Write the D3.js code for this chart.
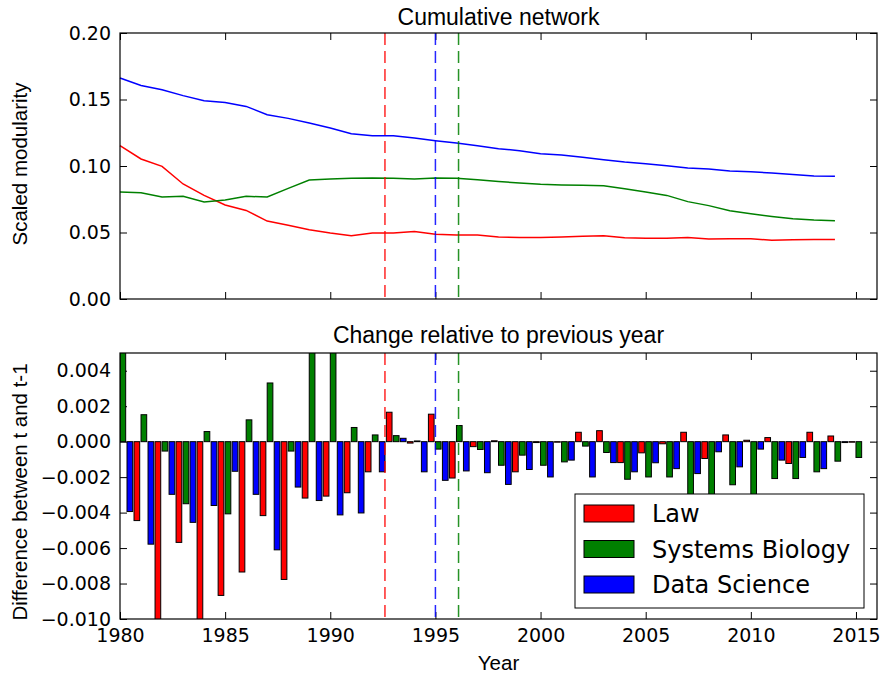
<!DOCTYPE html>
<html>
<head>
<meta charset="utf-8">
<script src="https://cdn.jsdelivr.net/npm/d3@7"></script>
<style>
  body { margin: 0; background: #fff; }
  .tick text { font-family: 'DejaVu Sans', sans-serif; font-size: 19px; fill: #000; }
  .label { font-family: 'Liberation Sans', Arial, sans-serif; font-size: 20.5px; fill: #000; }
  .title { font-family: 'Liberation Sans', Arial, sans-serif; font-size: 23px; fill: #000; }
  .legend text { font-family: 'DejaVu Sans', sans-serif; font-size: 24px; fill: #000; }
</style>
</head>
<body>
<svg width="882" height="676"></svg>
<script>
// cumulative network, one value per year 1980-2014
const years = d3.range(1980, 2015)
const lawCumulative = [0.1153, 0.1053, 0.0997, 0.0865, 0.0779, 0.0707, 0.0666, 0.0586, 0.0554, 0.0521,
  0.0496, 0.0476, 0.0496, 0.0496, 0.0508, 0.0486, 0.0481, 0.0481, 0.0467, 0.0463,
  0.0463, 0.0466, 0.0471, 0.0476, 0.0461, 0.0456, 0.0456, 0.0463, 0.0451, 0.0453,
  0.0453, 0.0441, 0.0446, 0.0448, 0.0448]
const sbCumulative = [0.0804, 0.0799, 0.0767, 0.0772, 0.0729, 0.0744, 0.0772, 0.0767, 0.0832, 0.0895,
  0.0902, 0.0907, 0.0910, 0.0907, 0.0902, 0.0910, 0.0907, 0.0897, 0.0884, 0.0872,
  0.0862, 0.0857, 0.0855, 0.0852, 0.0829, 0.0804, 0.0779, 0.0732, 0.0702, 0.0664,
  0.0641, 0.0621, 0.0604, 0.0594, 0.0589]
const dsCumulative = [0.1662, 0.1606, 0.1574, 0.1529, 0.1491, 0.1478, 0.1448, 0.1386, 0.1358, 0.1323,
  0.1286, 0.1243, 0.1228, 0.1228, 0.1210, 0.1190, 0.1173, 0.1153, 0.1130, 0.1115,
  0.1093, 0.1083, 0.1065, 0.1047, 0.1030, 0.1017, 0.1002, 0.0985, 0.0977, 0.0962,
  0.0957, 0.0947, 0.0937, 0.0925, 0.0922]

// change relative to previous year, bar groups 1980-2015
const barYears = d3.range(1980, 2016)
const lawChange = [-0.00445, -0.0115, -0.00568, -0.0108, -0.00867, -0.00735, -0.00417, -0.00777, -0.00318, -0.00307,
  -0.00288, -0.0017, 0.00166, -0.00008, 0.00155, -0.00205, -0.00028, 0.00005, -0.0017, -0.00005,
  -0.00003, 0.00053, 0.00062, -0.00118, -0.00063, -0.00012, 0.00053, -0.00095, 0.00038, 0.00008,
  0.00023, -0.00123, 0.00053, 0.00032, -0.00003, 0]
const sbChange = [0.0058, 0.00152, -0.00053, -0.0035, 0.00057, -0.00407, 0.00123, 0.00331, -0.00053, 0.0060,
  0.0060, 0.0008, 0.00038, 0.00034, 0.00004, -0.00042, 0.00091, -0.00044, -0.00133, -0.00076,
  -0.00133, -0.00114, -0.00025, -0.00061, -0.00212, -0.00199, -0.00199, -0.0034, -0.0032, -0.00243,
  -0.0033, -0.00208, -0.00208, -0.0017, -0.0011, -0.00089]
const dsChange = [-0.00394, -0.00578, -0.00297, -0.00455, -0.0036, -0.00167, -0.00297, -0.0061, -0.00256, -0.00332,
  -0.00413, -0.00402, -0.0017, 0.00019, -0.0017, -0.00218, -0.00165, -0.00175, -0.00241, -0.00157,
  -0.00199, -0.00104, -0.00199, -0.00118, -0.0017, -0.00119, -0.00152, -0.0018, -0.00057, -0.00142,
  -0.00042, -0.00104, -0.00089, -0.00152, -0.00005, 0]

const seriesNames = ['Law', 'Systems Biology', 'Data Science']
const seriesColors = ['#ff0000', '#008000', '#0000ff']
const barOffsets = [2 / 3, 0, 1 / 3] // law, sb, ds inside a year group
const splitYears = [1992.6, 1996.1, 1995.0] // dashed lines, same colour order

const yearTicks = [1980, 1985, 1990, 1995, 2000, 2005, 2010, 2015]
const cumulativeTicks = [0, 0.05, 0.1, 0.15, 0.2]
const changeTicks = [-0.010, -0.008, -0.006, -0.004, -0.002, 0, 0.002, 0.004]

const svg = d3.select('svg')
const width = +svg.attr('width')

const margin = {left: 120, right: 5}
const innerWidth = width - margin.left - margin.right
const panelHeight = 266
const barWidth = 0.27

const x = d3.scaleLinear().domain([1980, 2016]).range([0, innerWidth])

// axes with the ticks pointing inwards on all four sides
const drawAxes = (g, y, yTicks, fmt, xLabels) => {
  g.append('g').call(d3.axisLeft(y).tickValues(yTicks).tickFormat(fmt).tickSize(-7).tickPadding(9))
  g.append('g').attr('class', 'bare').attr('transform', `translate(${innerWidth},0)`)
    .call(d3.axisRight(y).tickValues(yTicks).tickSize(-7))
  g.append('g').attr('class', 'bare').call(d3.axisTop(x).tickValues(yearTicks).tickSize(-7))
  const bottom = g.append('g').attr('transform', `translate(0,${panelHeight})`)
    .call(d3.axisBottom(x).tickValues(yearTicks).tickSize(-7).tickPadding(10).tickFormat(d3.format('d')))
  if (!xLabels) bottom.attr('class', 'bare')
  // only left and bottom axes keep their labels
  g.selectAll('.bare .tick text').remove()
  g.selectAll('.domain').remove()
  g.selectAll('.tick line').attr('stroke', '#000')
}

const drawSplits = g => {
  g.selectAll('line.split').data(splitYears).enter()
    .append('line')
      .attr('class', 'split')
      .attr('x1', d => x(d)).attr('x2', d => x(d))
      .attr('y1', 0).attr('y2', panelHeight)
      .attr('stroke', (d, i) => seriesColors[i])
      .attr('stroke-opacity', 0.85)
      .attr('stroke-width', 1.5)
      .attr('stroke-dasharray', '12,6')
}

const drawFrame = g => {
  g.append('rect')
    .attr('width', innerWidth).attr('height', panelHeight)
    .attr('fill', 'none').attr('stroke', '#000').attr('stroke-width', 1.2)
}

// top panel: cumulative lines
const renderTop = () => {
  const g = svg.append('g').attr('transform', `translate(${margin.left},33)`)
  const y = d3.scaleLinear().domain([0, 0.2]).range([panelHeight, 0])

  drawAxes(g, y, cumulativeTicks, d3.format('.2f'), false)

  const line = d3.line().x(d => x(d[0])).y(d => y(d[1]))
  const series = [lawCumulative, sbCumulative, dsCumulative]
  series.forEach((values, i) => {
    g.append('path')
      .datum(years.map((yr, j) => [yr, values[j]]))
      .attr('d', line)
      .attr('fill', 'none')
      .attr('stroke', seriesColors[i])
      .attr('stroke-width', 1.5)
  })

  drawSplits(g)
  drawFrame(g)

  svg.append('text').attr('class', 'title')
    .attr('x', margin.left + innerWidth / 2).attr('y', 25)
    .attr('text-anchor', 'middle').text('Cumulative network')
  svg.append('text').attr('class', 'label')
    .attr('transform', 'rotate(-90)')
    .attr('x', -164).attr('y', 26.5)
    .attr('text-anchor', 'middle').text('Scaled modularity')
}

// bottom panel: grouped bars
const renderBottom = () => {
  const g = svg.append('g').attr('transform', `translate(${margin.left},353)`)
  const y = d3.scaleLinear().domain([-0.010, 0.005]).range([panelHeight, 0])

  g.append('clipPath').attr('id', 'clip-bars')
    .append('rect').attr('width', innerWidth).attr('height', panelHeight)

  drawAxes(g, y, changeTicks, d3.format('.3f'), true)

  const bars = g.append('g').attr('clip-path', 'url(#clip-bars)')
  const series = [lawChange, sbChange, dsChange]
  const bw = x(1980 + barWidth) - x(1980)
  series.forEach((values, i) => {
    bars.selectAll(null).data(barYears.map((yr, j) => ({year: yr, value: values[j]})))
      .enter()
      .append('rect')
        .attr('x', d => x(d.year + barOffsets[i]))
        .attr('y', d => y(Math.max(0, d.value)))
        .attr('width', bw)
        .attr('height', d => Math.abs(y(d.value) - y(0)))
        .attr('fill', seriesColors[i])
        .attr('stroke', '#000')
        .attr('stroke-width', 1)
  })

  drawSplits(g)

  // legend box, lower right
  const lw = 289, lh = 114
  const legend = g.append('g').attr('class', 'legend')
    .attr('transform', `translate(${innerWidth - 13 - lw},${panelHeight - 11 - lh})`)
  legend.append('rect').attr('width', lw).attr('height', lh)
    .attr('fill', '#fff').attr('stroke', '#000').attr('stroke-width', 1)
  seriesNames.forEach((name, i) => {
    const cy = 19.5 + i * 35.5
    legend.append('rect')
      .attr('x', 9).attr('y', cy - 8.5).attr('width', 50).attr('height', 17)
      .attr('fill', seriesColors[i]).attr('stroke', '#000')
    legend.append('text')
      .attr('x', 77).attr('y', cy).attr('dy', '0.36em')
      .text(name)
  })

  drawFrame(g)

  svg.append('text').attr('class', 'title')
    .attr('x', margin.left + innerWidth / 2).attr('y', 343)
    .attr('text-anchor', 'middle').text('Change relative to previous year')
  svg.append('text').attr('class', 'label')
    .attr('transform', 'rotate(-90)')
    .attr('x', -492).attr('y', 26.5)
    .attr('text-anchor', 'middle').text('Difference between t and t-1')
  svg.append('text').attr('class', 'label')
    .attr('x', margin.left + innerWidth / 2).attr('y', 670)
    .attr('text-anchor', 'middle').text('Year')
}

renderTop()
renderBottom()
</script>
</body>
</html>
